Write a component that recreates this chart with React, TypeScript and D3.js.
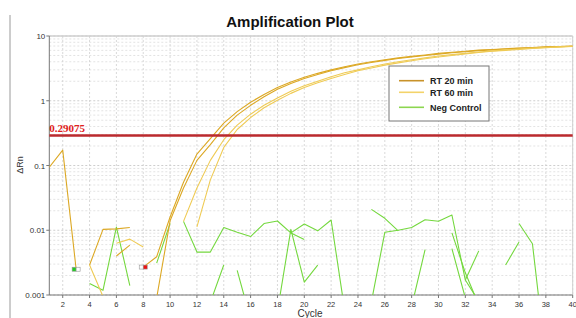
import React from "react";
import * as d3 from "d3";

const cycles: number[] = d3.range(1, 41);

// Amplification curves (null = no value / not plotted)
const rt20a: (number | null)[] = [0.094, 0.173, 0.0025, null, null, null, null, 0.0027, 0.0039, 0.016, 0.055, 0.15, 0.26, 0.45, 0.68, 0.95, 1.25, 1.6, 1.95, 2.3, 2.65, 3.0, 3.35, 3.7, 4.0, 4.3, 4.6, 4.85, 5.1, 5.4, 5.6, 5.8, 6.05, 6.2, 6.35, 6.5, 6.65, 6.8, 6.9, 7.0];
const rt20b: (number | null)[] = [null, null, null, 0.0029, 0.0103, 0.0105, 0.011, null, 0.0009, 0.014, 0.045, 0.12, 0.21, 0.38, 0.6, 0.85, 1.15, 1.5, 1.85, 2.2, 2.55, 2.9, 3.25, 3.6, 3.9, 4.2, 4.5, 4.75, 5.0, 5.25, 5.5, 5.7, 5.95, 6.1, 6.3, 6.45, 6.6, 6.75, 6.85, 6.95];
const rt60a: (number | null)[] = [null, null, null, 0.0029, 0.00095, null, null, null, null, null, 0.0137, 0.045, 0.12, 0.25, 0.42, 0.62, 0.85, 1.1, 1.4, 1.7, 2.0, 2.35, 2.7, 3.0, 3.35, 3.7, 4.0, 4.3, 4.6, 4.9, 5.15, 5.4, 5.65, 5.9, 6.1, 6.3, 6.5, 6.65, 6.8, 6.95];
const rt60b: (number | null)[] = [null, null, null, null, null, 0.0063, 0.0073, 0.0055, null, null, null, 0.0113, 0.06, 0.19, 0.36, 0.55, 0.78, 1.02, 1.3, 1.6, 1.9, 2.2, 2.55, 2.9, 3.2, 3.55, 3.85, 4.15, 4.45, 4.75, 5.0, 5.3, 5.55, 5.8, 6.0, 6.2, 6.4, 6.6, 6.75, 6.9];
const rtExtra: (number | null)[] = [null, null, null, null, null, 0.004, 0.0059, null, null, null, null, null, null, null, null, null, null, null, null, null, null, null, null, null, null, null, null, null, null, null, null, null, null, null, null, null, null, null, null, null];

// Negative control wells
const negA: (number | null)[] = [null, null, null, 0.0015, 0.00118, 0.0112, 0.0014, null, 0.0031, 0.0128, null, null, null, null, null, null, null, null, null, null, null, null, null, null, null, null, null, null, null, null, null, null, null, null, null, null, null, null, null, null];
const negB: (number | null)[] = [null, null, null, null, null, null, null, null, null, null, 0.0137, 0.0046, 0.0046, 0.011, 0.0093, 0.008, 0.0127, 0.0139, 0.0091, 0.0125, 0.0098, 0.0144, 0.0006, 0.0004, 0.00078, 0.0093, 0.01, 0.011, 0.0145, 0.0138, 0.0172, 0.0017, 0.0008, null, null, null, null, null, null, null];
const negC: (number | null)[] = [null, null, null, null, null, null, null, null, null, null, null, null, 0.00077, 0.0029, null, null, null, 0.00056, 0.0103, 0.00158, 0.0029, null, null, null, null, null, null, 0.00067, 0.005, null, 0.0091, 0.0022, 0.0007, null, 0.0029, 0.0066, null, null, null, null];
const negD: (number | null)[] = [null, null, null, null, null, null, null, null, null, null, null, null, null, null, 0.0024, 0.00042, null, null, 0.0091, 0.0072, null, null, null, null, 0.021, 0.0153, 0.0098, null, null, null, 0.0052, 0.0009, null, null, null, 0.0127, 0.0062, 0.0001, null, null];
const negE: (number | null)[] = [null, null, null, null, null, null, null, null, null, null, null, null, null, null, null, null, null, null, null, null, null, null, null, null, null, null, null, null, null, null, null, 0.0017, 0.0048, null, null, null, null, null, null, null];

const yTicks: number[] = [10, 1, 0.1, 0.01, 0.001];
const yTickLabels: string[] = ["10", "1", "0.1", "0.01", "0.001"];
const xTicks: number[] = d3.range(2, 41, 2);
const threshold = 0.29075;
const thresholdLabel = "0.29075";

const legendNames: string[] = ["RT 20 min", "RT 60 min", "Neg Control"];
const legendColors: string[] = ["#c8922a", "#f3d36a", "#8cd650"];

const C_RT20 = "#dca824";
const C_RT60 = "#efcb55";
const C_NEG = "#74d83e";

export default function App() {
  const L = 49.3, R = 572.7, T = 36, B = 295;
  const x = d3.scaleLinear().domain([1, 40]).range([L, R]);
  const y = d3.scaleLog().domain([0.001, 10]).range([B, T]);

  const line = (vals: (number | null)[]) =>
    d3
      .line<number>()
      .defined((i) => vals[i] != null)
      .x((i) => x(cycles[i]))
      .y((i) => y(vals[i] as number))(d3.range(vals.length)) || "";

  const minor: number[] = [];
  [0.001, 0.01, 0.1, 1].forEach((d) => {
    for (let k = 2; k <= 9; k++) minor.push(d * k);
  });

  const font = "'Liberation Sans', Arial, sans-serif";

  const amp = [
    { v: rt20a, c: C_RT20 },
    { v: rt20b, c: C_RT20 },
    { v: rt60a, c: C_RT60 },
    { v: rt60b, c: C_RT60 },
    { v: rtExtra, c: C_RT20 },
  ];
  const neg = [negA, negB, negC, negD, negE];

  return (
    <svg
      width={576}
      height={318}
      style={{ position: "absolute", left: 0, top: 0, background: "#fff" }}
      fontFamily={font}
    >
      <defs>
        <clipPath id="plot">
          <rect x={L} y={T} width={R - L} height={B - T} />
        </clipPath>
      </defs>
      <rect width={576} height={318} fill="#fff" />
      <line x1={10} x2={10} y1={15} y2={318} stroke="#9a9a9a" strokeWidth={1} />

      <text x={290} y={27} textAnchor="middle" fontSize={15} fontWeight="bold" fill="#111">
        Amplification Plot
      </text>

      {/* grid */}
      {minor.map((m, i) => (
        <line key={"mn" + i} x1={L} x2={R} y1={y(m)} y2={y(m)} stroke="#dcdcdc" strokeWidth={0.8} strokeDasharray="2,2" />
      ))}
      {yTicks.map((t, i) => (
        <line key={"mj" + i} x1={L} x2={R} y1={y(t)} y2={y(t)} stroke="#c8c8c8" strokeWidth={0.9} strokeDasharray="2,2" />
      ))}
      {xTicks.map((t, i) => (
        <line key={"vx" + i} x1={x(t)} x2={x(t)} y1={T} y2={B} stroke="#cfcfcf" strokeWidth={0.8} strokeDasharray="2,2" />
      ))}

      {/* frame */}
      <line x1={L} x2={R} y1={T} y2={T} stroke="#cfcfcf" strokeWidth={1.5} />
      <line x1={R} x2={R} y1={T} y2={B} stroke="#cfcfcf" strokeWidth={1} />
      <line x1={L} x2={L} y1={T} y2={B} stroke="#777" strokeWidth={1} />
      <line x1={L} x2={R} y1={B} y2={B} stroke="#777" strokeWidth={1} />

      {/* ticks */}
      {yTicks.map((t, i) => (
        <g key={"yt" + i}>
          <line x1={L - 3} x2={L} y1={y(t)} y2={y(t)} stroke="#777" />
          <text x={L - 4} y={y(t) + 3} textAnchor="end" fontSize={8} fill="#333">
            {yTickLabels[i]}
          </text>
        </g>
      ))}
      {xTicks.map((t, i) => (
        <g key={"xt" + i}>
          <line x1={x(t)} x2={x(t)} y1={B} y2={B + 3} stroke="#777" />
          <text x={x(t)} y={B + 12} textAnchor="middle" fontSize={7.5} fill="#333">
            {t}
          </text>
        </g>
      ))}
      <text x={310} y={317} textAnchor="middle" fontSize={10} fill="#333">
        Cycle
      </text>
      <text transform={`translate(23,165) rotate(-90)`} textAnchor="middle" fontSize={9} fill="#333">
        ΔRn
      </text>

      {/* data */}
      <g clipPath="url(#plot)" fill="none" strokeLinejoin="round">
        {neg.map((v, i) => (
          <path key={"n" + i} d={line(v)} stroke={C_NEG} strokeWidth={1.1} />
        ))}
        {amp.map((a, i) => (
          <path key={"a" + i} d={line(a.v)} stroke={a.c} strokeWidth={1.1} />
        ))}
      </g>

      {/* threshold */}
      <line x1={L} x2={R} y1={y(threshold)} y2={y(threshold)} stroke="#bb2a2e" strokeWidth={2.6} />
      <text x={L} y={y(threshold) - 3} fontSize={11} fontWeight="bold" fill="#e02020" fontFamily="'Liberation Serif', 'Times New Roman', serif">
        {thresholdLabel}
      </text>

      {/* markers */}
      <rect x={x(3) - 4} y={y(0.0025) - 2} width={4} height={4} fill="#22cc22" stroke="#999" strokeWidth={0.6} />
      <rect x={x(3)} y={y(0.0025) - 2} width={4} height={4} fill="#fff" stroke="#999" strokeWidth={0.6} />
      <rect x={x(8) - 4} y={y(0.0027) - 2} width={4} height={4} fill="#fff" stroke="#999" strokeWidth={0.6} />
      <rect x={x(8)} y={y(0.0027) - 2} width={4} height={4} fill="#ee1111" stroke="#999" strokeWidth={0.6} />

      {/* legend */}
      <rect x={389} y={66} width={100} height={55} fill="#fff" stroke="#777" strokeWidth={1} />
      {legendNames.map((n, i) => {
        const ly = [80.7, 92.3, 107.3][i];
        return (
          <g key={"lg" + i}>
            <line x1={399} x2={424} y1={ly} y2={ly} stroke={legendColors[i]} strokeWidth={1.6} />
            <text x={430} y={ly + 3.2} fontSize={9} fontWeight="bold" fill="#222">
              {n}
            </text>
          </g>
        );
      })}
    </svg>
  );
}
